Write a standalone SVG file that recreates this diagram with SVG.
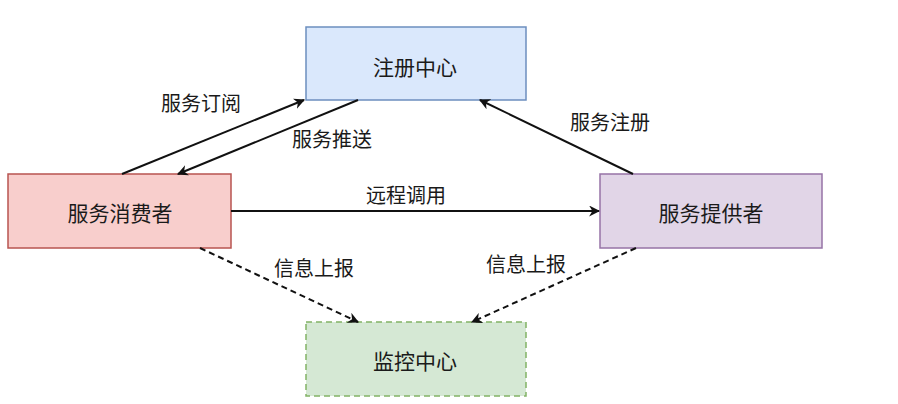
<svg xmlns="http://www.w3.org/2000/svg" width="898" height="404" viewBox="0 0 898 404">
<style>
  text { font-family: "Noto Sans CJK SC", "Noto Sans", sans-serif; font-size: 21px; fill: #1a1a1a; text-anchor: middle; dominant-baseline: central; }
  .lbl { font-size: 20px; }
  .node { stroke-width: 1.5; }
  .edge { stroke: #111; stroke-width: 2; fill: none; }
  .dash { stroke-dasharray: 6 4; }
</style>
<defs>
  <marker id="arr" viewBox="0 0 10 10" refX="9" refY="5" markerWidth="11" markerHeight="11" markerUnits="userSpaceOnUse" orient="auto">
    <path d="M0,0 L10,5 L0,10 L3,5 Z" fill="#111"/>
  </marker>
</defs>
<rect width="898" height="404" fill="#ffffff"/>
<g id="registry">
  <rect class="node" x="306" y="27" width="220" height="73" fill="#dae8fc" stroke="#6c8ebf"/>
  <text x="415" y="66">注册中心</text>
</g>
<g id="consumer">
  <rect class="node" x="8" y="174" width="223" height="74" fill="#f8cecc" stroke="#b85450"/>
  <text x="120" y="212">服务消费者</text>
</g>
<g id="provider">
  <rect class="node" x="600" y="174" width="222" height="74" fill="#e1d5e7" stroke="#9673a6"/>
  <text x="711" y="212">服务提供者</text>
</g>
<g id="monitor">
  <rect class="node dash" x="306" y="322" width="220" height="74" fill="#d5e8d4" stroke="#82b366"/>
  <text x="415" y="360">监控中心</text>
</g>
<g id="connectors">
  <line class="edge" x1="122" y1="174" x2="304" y2="100" marker-end="url(#arr)"/>
  <line class="edge" x1="358" y1="100" x2="178" y2="174" marker-end="url(#arr)"/>
  <line class="edge" x1="633" y1="174" x2="480" y2="100" marker-end="url(#arr)"/>
  <line class="edge" x1="231" y1="211" x2="599" y2="211" marker-end="url(#arr)"/>
  <line class="edge dash" x1="200" y1="248" x2="358" y2="322" marker-end="url(#arr)"/>
  <line class="edge dash" x1="636" y1="248" x2="472" y2="322" marker-end="url(#arr)"/>
  <text class="lbl" x="201" y="102">服务订阅</text>
  <text class="lbl" x="332" y="138">服务推送</text>
  <text class="lbl" x="610" y="121">服务注册</text>
  <text class="lbl" x="406" y="194">远程调用</text>
  <text class="lbl" x="314" y="267">信息上报</text>
  <text class="lbl" x="526" y="263">信息上报</text>
</g>
</svg>
